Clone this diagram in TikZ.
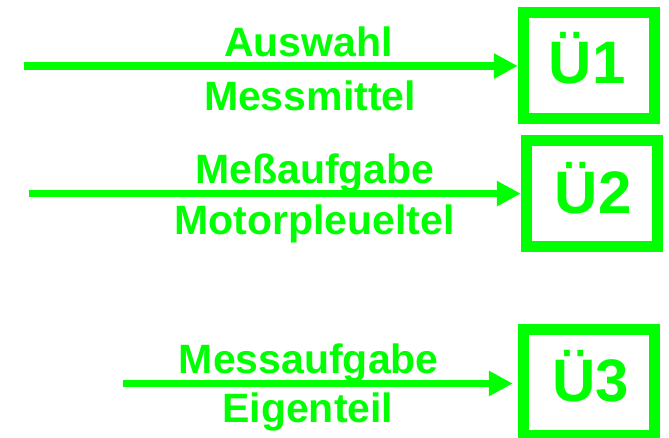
\documentclass[tikz,border=0pt]{standalone}
\usepackage{fontspec}
\setmainfont{Liberation Sans}
\usetikzlibrary{arrows.meta}
\definecolor{lgreen}{RGB}{0,255,0}
\begin{document}
\begin{tikzpicture}[x=1pt,y=-1pt,
  ubox/.style={draw=lgreen,line width=11pt,inner sep=0pt,minimum width=131.5pt,minimum height=106.3pt},
  conn/.style={draw=lgreen,line width=7.8pt,-{Triangle[length=24pt,width=24pt]}},
  lbl/.style={text=lgreen,inner sep=0pt,anchor=base,font=\fontsize{41}{41}\selectfont\bfseries},
  ulbl/.style={text=lgreen,inner sep=0pt,anchor=base,font=\fontsize{60}{60}\selectfont\bfseries}]
\useasboundingbox (0,0) rectangle (669,438);
% boxes
\node[ubox] (b1) at (589,65.25) {};
\node[ubox] (b2) at (592,193.6) {};
\node[ubox] (b3) at (589,382.5) {};
\node[ulbl] (u1) at (587.2,83.3) {Ü1};
\node[ulbl] (u2) at (593.3,213.3) {Ü2};
\node[ulbl] (u3) at (590.5,401.7) {Ü3};
% arrow starts
\coordinate (s1) at (24,66);
\coordinate (s2) at (29,193.6);
\coordinate (s3) at (122.7,383.5);
\draw[conn] (s1) -- (s1 -| b1.west);
\draw[conn] (s2) -- (s2 -| b2.west);
\draw[conn,shorten >=5pt] (s3) -- (s3 -| b3.west);
% labels
\node[lbl] (t1a) at (308.5,56.7) {Auswahl};
\node[lbl] (t1b) at (310,110.7) {Messmittel};
\node[lbl] (t2a) at (315,183.3) {Meßaufgabe};
\node[lbl] (t2b) at (314.7,234.3) {Motorpleueltel};
\node[lbl] (t3a) at (308.8,373.3) {Messaufgabe};
\node[lbl] (t3b) at (307.8,422.7) {Eigenteil};
\end{tikzpicture}
\end{document}
